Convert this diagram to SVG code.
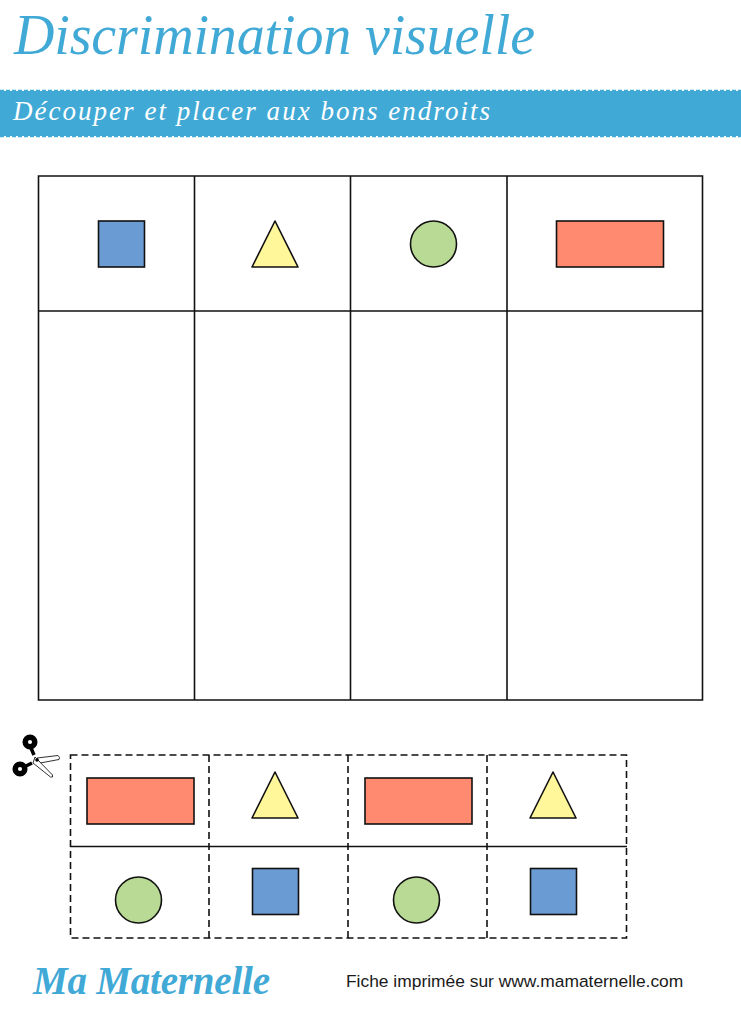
<svg xmlns="http://www.w3.org/2000/svg" width="741" height="1024" viewBox="0 0 741 1024">
<style>
.ln{fill:none;stroke:#111;stroke-width:1.600}
.cut{fill:none;stroke:#111;stroke-width:1.600;stroke-dasharray:7 4}
.sh{stroke:#111;stroke-width:1.600}
.sq{fill:#6a9bd3}.tr{fill:#fff799}.ci{fill:#b9da94}.re{fill:#ff8a70}
.cur{font-family:"Liberation Serif",serif;font-style:italic}
</style>
<defs>
<rect id="square" class="sh sq" width="46" height="46"/>
<path id="triangle" class="sh tr" stroke-linejoin="round" d="M23 0L46 46H0Z"/>
<circle id="circle" class="sh ci" r="23"/>
<rect id="rectangle" class="sh re" width="107" height="46"/>
</defs>
<rect width="741" height="1024" fill="#fff"/>
<g id="header">
<text class="cur" x="14" y="54" font-size="56" textLength="521" lengthAdjust="spacing" fill="#41a9d6">Discrimination visuelle</text>
<rect x="0" y="91" width="741" height="45" fill="#41a9d6"/>
<path d="M0 90.500H741M0 136.500H741" fill="none" stroke="#41a9d6" stroke-width="1.500" stroke-dasharray="4 2"/>
<text class="cur" x="13" y="120" font-size="27" textLength="477" lengthAdjust="spacing" fill="#fff">Découper et placer aux bons endroits</text>
</g>
<g id="table">
<path class="ln" d="M38.500 176H702.500V700H38.500ZM38.500 311H702.500M194.500 176V700M350.500 176V700M507 176V700"/>
</g>
<g id="header-shapes">
<use href="#square" x="98.500" y="221"/>
<use href="#triangle" x="252" y="221"/>
<use href="#circle" x="433.500" y="244"/>
<use href="#rectangle" x="556.500" y="221"/>
</g>
<g id="scissors">
<path d="M37 758L58 755.500Q60.500 757.500 59 759.500L40 763Z" fill="#fff" stroke="#000" stroke-width="0.800"/>
<path d="M35 757L52.500 775Q53.500 778 50.500 777L33 763Z" fill="#fff" stroke="#000" stroke-width="0.800"/>
<circle cx="30" cy="742" r="4.800" fill="#fff" stroke="#000" stroke-width="5.500"/>
<circle cx="20" cy="769" r="4.800" fill="#fff" stroke="#000" stroke-width="5.500"/>
<path d="M31 748L34 755M26 766L32 763" stroke="#000" stroke-width="3.500" fill="none"/>
<circle cx="37" cy="760" r="1.800" fill="#000"/>
</g>
<g id="cut-sheet">
<path class="cut" d="M70.500 755H626.500V938H70.500ZM209 755V938M348 755V938M487 755V938"/>
<path class="ln" d="M70 846.500H627"/>
<use href="#rectangle" x="87" y="778"/>
<use href="#triangle" x="252" y="772"/>
<use href="#rectangle" x="365" y="778"/>
<use href="#triangle" x="530" y="772"/>
<use href="#circle" x="138.500" y="900"/>
<use href="#square" x="252.500" y="868.500"/>
<use href="#circle" x="416.500" y="900"/>
<use href="#square" x="530.500" y="868.500"/>
</g>
<g id="footer">
<text class="cur" x="33" y="994" font-size="39" font-weight="700" textLength="237" lengthAdjust="spacing" fill="#41a9d6">Ma Maternelle</text>
<text x="346" y="987" font-family="Liberation Sans, sans-serif" font-size="17.400" fill="#1a1a1a">Fiche imprimée sur www.mamaternelle.com</text>
</g>
</svg>
